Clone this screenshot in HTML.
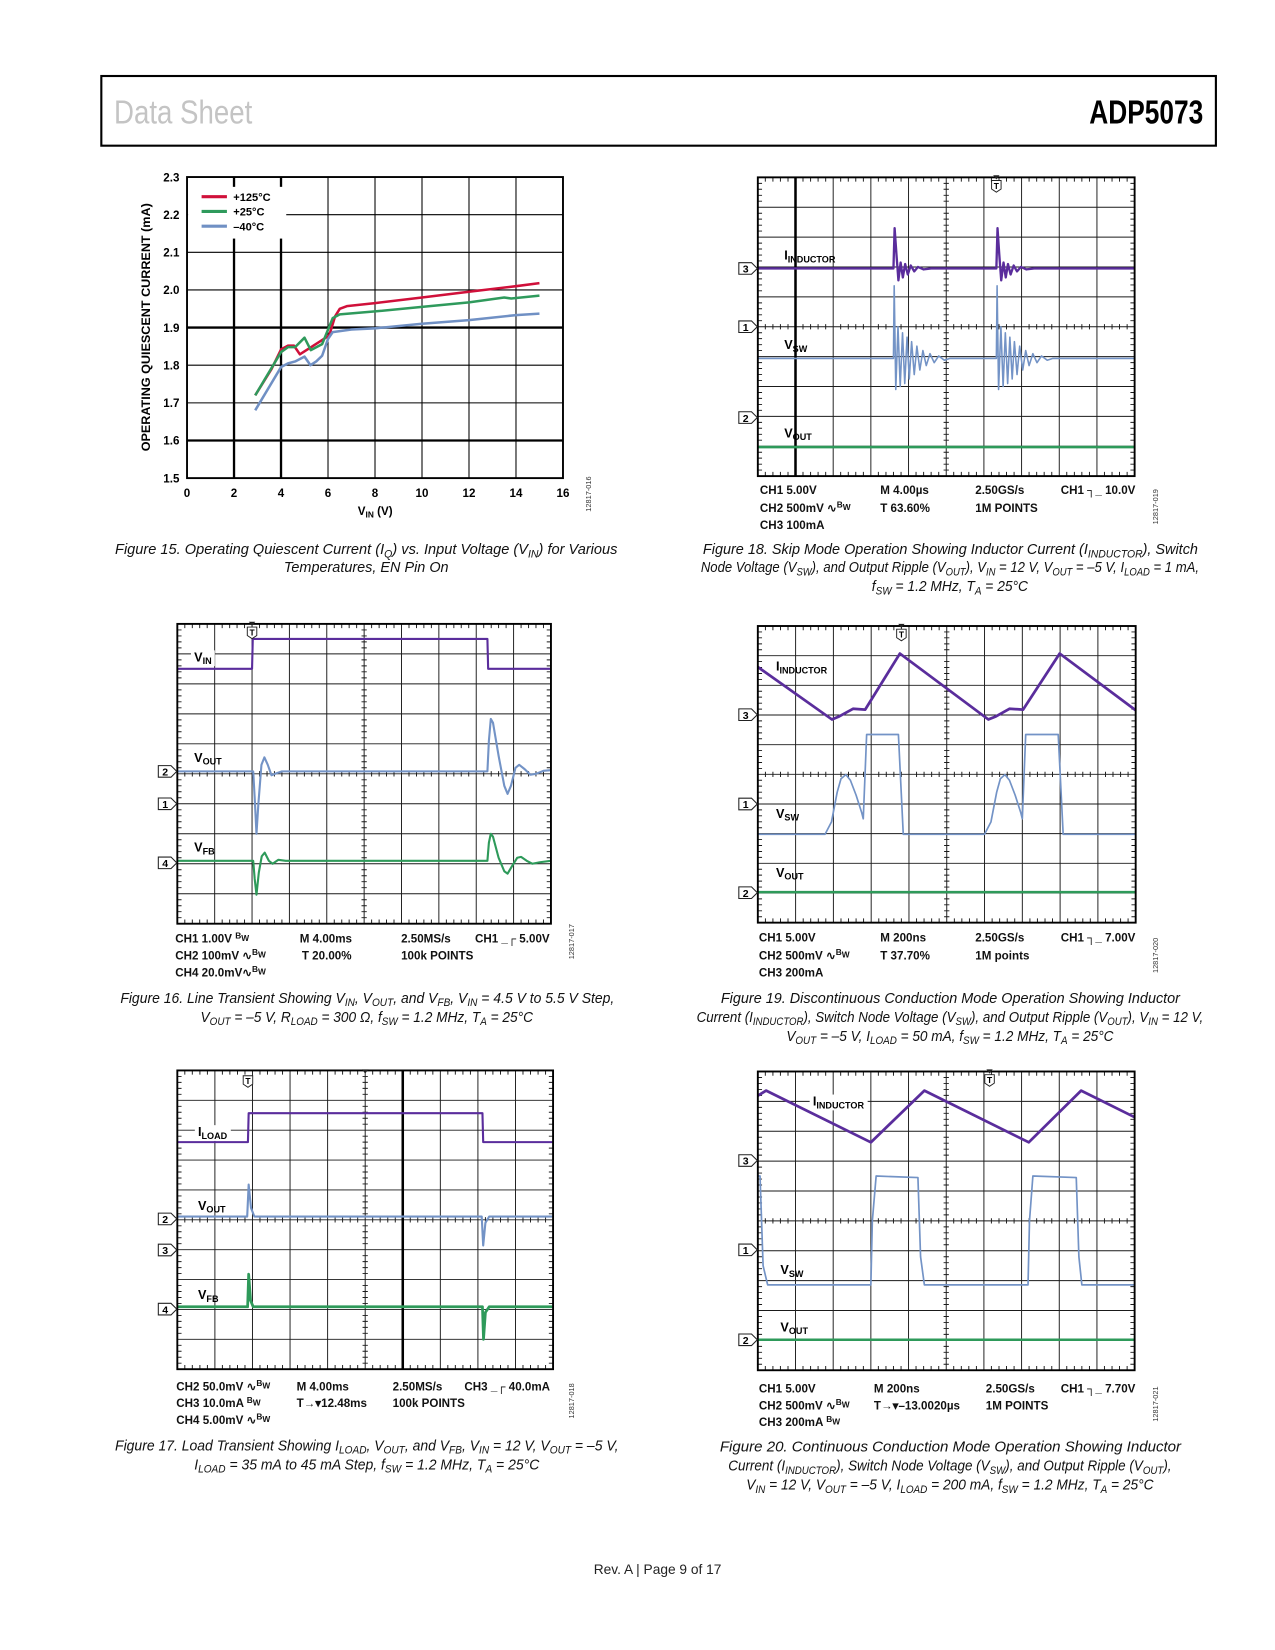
<!DOCTYPE html>
<html><head><meta charset="utf-8"><title>ADP5073 Data Sheet p9</title>
<style>
html,body{margin:0;padding:0;background:#fff;}
svg{display:block;}
text{font-family:"Liberation Sans",sans-serif;}
</style></head>
<body>
<svg id="page" xmlns="http://www.w3.org/2000/svg" width="1275" height="1650" viewBox="0 0 1208 1563" preserveAspectRatio="none">
<rect x="0" y="0" width="1208" height="1563" fill="#fff"/>
<g>
<rect x="96" y="72" width="1056" height="66" fill="none" stroke="#000" stroke-width="2"/>
<text x="108" y="117" font-size="32" fill="#c4c4c4" textLength="131" lengthAdjust="spacingAndGlyphs">Data Sheet</text>
<text x="1032" y="117" font-size="32" font-weight="bold" fill="#000" textLength="108" lengthAdjust="spacingAndGlyphs">ADP5073</text>
</g>
<text x="623" y="1491" font-size="13" text-anchor="middle" fill="#222">Rev. A | Page 9 of 17</text>
<g id="layer"></g>
</svg>
<script>
// ---------- Figure 15 data ----------
const fig15Red = [[2.9,1.72],[3.6,1.79],[4.0,1.842],[4.3,1.852],[4.55,1.852],[4.8,1.829],[5.2,1.845],[5.7,1.865],[6.05,1.879],[6.3,1.93],[6.5,1.95],[6.8,1.957],[8,1.965],[10,1.98],[12,1.995],[14,2.01],[15,2.018]];
const fig15Green = [[2.9,1.72],[4.0,1.835],[4.3,1.848],[4.6,1.848],[5.0,1.873],[5.27,1.84],[5.75,1.856],[6.2,1.925],[6.5,1.935],[8,1.943],[10,1.955],[12,1.967],[13.5,1.98],[13.8,1.977],[15,1.985]];
const fig15Blue = [[2.9,1.68],[4.0,1.795],[4.3,1.805],[4.6,1.81],[5.0,1.823],[5.25,1.80],[5.5,1.81],[5.75,1.825],[6.0,1.87],[6.2,1.888],[7,1.895],[8,1.898],[10,1.91],[12,1.92],[14,1.933],[15,1.937]];
const fig15XTicks = [0,2,4,6,8,10,12,14,16];
const fig15YTicks = ["1.5","1.6","1.7","1.8","1.9","2.0","2.1","2.2","2.3"];
const fig15Legend = ["+125°C","+25°C","\u201340°C"];

// ---------- Scope traces (division units: x 0..10, y 0..10 from top) ----------
const fig18Ind = [[0,3.05],[3.6,3.05],[3.63,1.7],[3.68,2.6],[3.73,3.45],[3.79,2.85],[3.85,3.35],[3.91,2.9],[3.98,3.25],[4.06,2.95],[4.15,3.15],[4.25,3.0],[4.4,3.08],[4.6,3.05],[6.33,3.05],[6.36,1.7],[6.41,2.6],[6.46,3.45],[6.52,2.85],[6.58,3.35],[6.64,2.9],[6.71,3.25],[6.79,2.95],[6.88,3.15],[6.98,3.0],[7.13,3.08],[7.33,3.05],[10,3.05]];
const fig18Vsw = [[0,6.06],[3.6,6.06],[3.62,3.63],[3.66,7.1],[3.72,5.0],[3.78,7.0],[3.84,5.2],[3.9,6.9],[3.96,5.35],[4.02,6.75],[4.08,5.5],[4.15,6.6],[4.22,5.65],[4.3,6.45],[4.38,5.8],[4.47,6.3],[4.57,5.9],[4.68,6.2],[4.8,5.98],[4.95,6.12],[5.1,6.06],[6.33,6.06],[6.35,3.63],[6.39,7.1],[6.45,5.0],[6.51,7.0],[6.57,5.2],[6.63,6.9],[6.69,5.35],[6.75,6.75],[6.81,5.5],[6.88,6.6],[6.95,5.65],[7.03,6.45],[7.11,5.8],[7.2,6.3],[7.3,5.9],[7.41,6.2],[7.53,5.98],[7.68,6.12],[7.83,6.06],[10,6.06]];
const fig18Vout = [[0,9.03],[10,9.03]];
const fig16Vin = [[0,1.5],[2.0,1.5],[2.02,0.5],[8.3,0.5],[8.32,1.5],[10,1.5]];
const fig16Vout = [[0,4.92],[2.03,4.92],[2.07,5.8],[2.12,7.0],[2.17,6.0],[2.25,4.7],[2.33,4.45],[2.42,4.7],[2.52,5.05],[2.62,5.0],[2.8,4.92],[8.3,4.92],[8.34,3.9],[8.39,3.17],[8.45,3.3],[8.6,4.4],[8.75,5.4],[8.84,5.67],[8.93,5.4],[9.05,4.8],[9.15,4.7],[9.3,4.85],[9.45,5.03],[9.6,5.0],[9.8,4.9],[10,4.88]];
const fig16Vfb = [[0,7.9],[2.03,7.9],[2.07,8.5],[2.12,9.03],[2.18,8.3],[2.26,7.75],[2.34,7.63],[2.45,7.9],[2.55,8.0],[2.7,7.87],[2.9,7.9],[8.3,7.9],[8.34,7.3],[8.39,7.0],[8.45,7.1],[8.6,7.8],[8.75,8.25],[8.84,8.33],[8.95,8.1],[9.1,7.8],[9.2,7.77],[9.35,7.9],[9.5,8.0],[9.7,7.95],[10,7.9]];
const fig19Ind = [[0,1.38],[1.96,3.15],[2.15,3.05],[2.52,2.79],[2.84,2.82],[3.76,0.93],[6.1,3.15],[6.3,3.05],[6.66,2.79],[7.02,2.82],[7.99,0.93],[10,2.84]];
const fig19Vsw = [[0,7.02],[1.78,7.02],[1.95,6.6],[2.1,5.6],[2.2,5.15],[2.33,5.01],[2.45,5.2],[2.6,5.7],[2.75,6.3],[2.79,6.5],[2.88,3.66],[3.72,3.66],[3.85,7.02],[6.0,7.02],[6.17,6.6],[6.32,5.6],[6.42,5.15],[6.54,5.01],[6.66,5.2],[6.81,5.7],[6.96,6.3],[7.0,6.5],[7.09,3.66],[7.95,3.66],[8.08,7.02],[10,7.02]];
const fig19Vout = [[0,8.97],[10,8.97]];
const fig17Iload = [[0,2.4],[1.88,2.4],[1.9,1.43],[8.12,1.43],[8.14,2.4],[10,2.4]];
const fig17Vout = [[0,4.89],[1.86,4.89],[1.9,3.82],[1.96,4.6],[2.05,4.89],[8.1,4.89],[8.14,5.86],[8.2,5.1],[8.3,4.89],[10,4.89]];
const fig17Vfb = [[0,7.91],[1.87,7.91],[1.9,6.82],[1.95,7.7],[2.02,7.91],[8.12,7.91],[8.15,9.0],[8.2,8.1],[8.3,7.91],[10,7.91]];
const fig20Ind = [[0,0.81],[0.22,0.64],[3.0,2.37],[4.42,0.64],[7.19,2.37],[8.58,0.64],[10,1.53]];
const fig20Vsw = [[0,3.5],[0.06,3.5],[0.14,6.5],[0.26,7.14],[3.0,7.14],[3.04,5.0],[3.14,3.5],[4.25,3.55],[4.32,6.2],[4.42,7.14],[7.17,7.14],[7.21,5.0],[7.3,3.5],[8.45,3.55],[8.52,6.2],[8.6,7.14],[10,7.14]];
const fig20Vout = [[0,8.98],[10,8.98]];

const NS = "http://www.w3.org/2000/svg";
const layer = document.getElementById('layer');
const PURPLE = "#5a2d9c", BLUE = "#7393c6", GREEN = "#2e9a5a";

function el(tag, attrs, parent){
  const e = document.createElementNS(NS, tag);
  for (const k in attrs) e.setAttribute(k, attrs[k]);
  (parent || layer).appendChild(e);
  return e;
}
function nm(e, name){
  
  
  return e;
}
function rich(parent, str, attrs, size){
  const t = el('text', attrs, parent);
  const re = /([_^])\{([^}]*)\}/g;
  let last = 0, m, pendingDy = 0;
  const add = (txt, extra) => {
    if (!txt) return;
    const sp = el('tspan', extra || {}, t);
    sp.textContent = txt;
  };
  while ((m = re.exec(str)) !== null) {
    add(str.slice(last, m.index), pendingDy ? {dy: pendingDy} : {});
    pendingDy = 0;
    const d = m[1] === '_' ? size * 0.22 : -size * 0.38;
    add(m[2], {'font-size': (size * 0.72).toFixed(1), dy: d.toFixed(2)});
    pendingDy = (-d).toFixed(2);
    last = re.lastIndex;
  }
  const rest = str.slice(last);
  if (rest) add(rest, pendingDy ? {dy: pendingDy} : {});
  else if (pendingDy) add('\u200b', {dy: pendingDy});
  return t;
}

// ---------- Figure 15 ----------
(function(){
  const g = nm(el('g', {}), 'figure-15-chart');
  const X0 = 177.2, X1 = 533.4, Y0 = 167.7, Y1 = 452.9;
  const xs = v => X0 + (v - 0) / 16 * (X1 - X0);
  const ys = v => Y1 - (v - 1.5) / 0.8 * (Y1 - Y0);
  nm(el('rect', {x: X0, y: Y0, width: X1 - X0, height: Y1 - Y0, fill: '#fff'}, g), 'plot-area');
  for (let i = 1; i < 8; i++) {
    const v = fig15XTicks[i];
    const thick = (v === 2 || v === 4);
    const ln = el('line', {x1: xs(v), x2: xs(v), y1: Y0, y2: Y1, stroke: '#000', 'stroke-width': thick ? 2.2 : 1}, g);
    nm(ln, 'x-gridline');
  }
  for (let i = 1; i < 8; i++) {
    const v = parseFloat(fig15YTicks[i]);
    const thick = (fig15YTicks[i] === "1.9" || fig15YTicks[i] === "1.6");
    const ln = el('line', {x1: X0, x2: X1, y1: ys(v), y2: ys(v), stroke: '#000', 'stroke-width': thick ? 2.2 : 1}, g);
    nm(ln, 'y-gridline');
  }
  const lb = el('rect', {x: X0 + 1, y: 177, width: 93, height: 49, fill: '#fff'}, g);
  nm(lb, 'legend-box');
  nm(el('rect', {x: X0, y: Y0, width: X1 - X0, height: Y1 - Y0, fill: 'none', stroke: '#000', 'stroke-width': 1.8}, g), 'plot-border');
  fig15XTicks.forEach(v => {
    const t = el('text', {x: xs(v), y: 471, 'font-size': 11, 'font-weight': 'bold', 'text-anchor': 'middle'}, g);
    t.textContent = v;
    nm(t, 'x-tick-label');
  });
  fig15YTicks.forEach(s => {
    const t = el('text', {x: 170, y: ys(parseFloat(s)) + 4, 'font-size': 11, 'font-weight': 'bold', 'text-anchor': 'end'}, g);
    t.textContent = s;
    nm(t, 'y-tick-label');
  });
  const xt = rich(g, 'V_{IN} (V)', {x: 339, y: 488, 'font-size': 11, 'font-weight': 'bold'}, 11);
  nm(xt, 'x-axis-title');
  const yt = el('text', {x: 0, y: 0, 'font-size': 11, 'font-weight': 'bold', 'text-anchor': 'middle', transform: 'translate(142,310) rotate(-90)', textLength: 235, lengthAdjust: 'spacingAndGlyphs'}, g);
  yt.textContent = 'OPERATING QUIESCENT CURRENT (mA)';
  nm(yt, 'y-axis-title');
  const series = [[fig15Red, '#d0103a', 'series-plus125c'], [fig15Green, '#2f9a5c', 'series-plus25c'], [fig15Blue, '#7090c4', 'series-minus40c']];
  series.forEach((s, i) => {
    const p = el('polyline', {points: s[0].map(d => xs(d[0]).toFixed(1) + ',' + ys(d[1]).toFixed(1)).join(' '), fill: 'none', stroke: s[1], 'stroke-width': 2.4, 'stroke-linejoin': 'round'}, g);
    nm(p, s[2]);
    const ly = 186.3 + i * 14;
    const ll = el('line', {x1: 191, x2: 215, y1: ly, y2: ly, stroke: s[1], 'stroke-width': 3}, g);
    nm(ll, 'legend-swatch');
    const lt = el('text', {x: 221, y: ly + 4, 'font-size': 10.5, 'font-weight': 'bold'}, g);
    lt.textContent = fig15Legend[i];
    nm(lt, 'legend-entry');
  });
  const id = el('text', {x: 0, y: 0, 'font-size': 7, 'text-anchor': 'middle', fill: '#333', transform: 'translate(560,468) rotate(-90)'}, g);
  id.textContent = '12817-016';
  nm(id, 'figure-id');
})();

// ---------- Scopes ----------
const scopes = [
  {name: 'figure-18-scope', x: 718, y: 168, w: 357, h: 283, cursor: 1, trig: 6.33, trigTop: true,
   traces: [[fig18Ind, PURPLE, 2.2, 'trace-inductor-current'], [fig18Vsw, BLUE, 1.5, 'trace-switch-voltage'], [fig18Vout, GREEN, 2.4, 'trace-output-voltage']],
   markers: [['3', 3.05], ['1', 5.0], ['2', 8.04]],
   labels: [['I_{INDUCTOR}', 0.7, 2.75, false], ['V_{SW}', 0.7, 5.75, false], ['V_{OUT}', 0.7, 8.7, false]],
   foot: [[720, 468, 'CH1 5.00V'], [834, 468, 'M 4.00µs'], [924, 468, '2.50GS/s'], [1005, 468, 'CH1 ┐_ 10.0V'], [720, 485, 'CH2 500mV  ∿^{B}_{W}'], [834, 485, 'T  63.60%'], [924, 485, '1M POINTS'], [720, 501, 'CH3 100mA']],
   id: [1097, 480, '12817-019']},
  {name: 'figure-16-scope', x: 168, y: 591, w: 354, h: 284, cursor: null, trig: 2.0, trigTop: true,
   traces: [[fig16Vin, PURPLE, 2.0, 'trace-input-voltage'], [fig16Vout, BLUE, 2.0, 'trace-output-voltage'], [fig16Vfb, GREEN, 2.0, 'trace-feedback-voltage']],
   markers: [['2', 4.92], ['1', 6.0], ['4', 7.97]],
   labels: [['V_{IN}', 0.45, 1.25, true], ['V_{OUT}', 0.45, 4.6, false], ['V_{FB}', 0.45, 7.6, false]],
   foot: [[166, 893, 'CH1 1.00V  ^{B}_{W}'], [284, 893, 'M 4.00ms'], [380, 893, '2.50MS/s'], [450, 893, 'CH1 _┌ 5.00V'], [166, 909, 'CH2 100mV ∿^{B}_{W}'], [286, 909, 'T 20.00%'], [380, 909, '100k POINTS'], [166, 925, 'CH4 20.0mV∿^{B}_{W}']],
   id: [544, 892, '12817-017']},
  {name: 'figure-19-scope', x: 718, y: 593, w: 358, h: 281, cursor: null, trig: 3.8, trigTop: true,
   traces: [[fig19Ind, PURPLE, 2.6, 'trace-inductor-current'], [fig19Vsw, BLUE, 1.6, 'trace-switch-voltage'], [fig19Vout, GREEN, 2.4, 'trace-output-voltage']],
   markers: [['3', 2.99], ['1', 6.0], ['2', 8.99]],
   labels: [['I_{INDUCTOR}', 0.48, 1.5, false], ['V_{SW}', 0.48, 6.47, false], ['V_{OUT}', 0.48, 8.46, false]],
   foot: [[719, 892, 'CH1 5.00V'], [834, 892, 'M 200ns'], [924, 892, '2.50GS/s'], [1005, 892, 'CH1 ┐_ 7.00V'], [719, 909, 'CH2 500mV  ∿^{B}_{W}'], [834, 909, 'T  37.70%'], [924, 909, '1M points'], [719, 925, 'CH3 200mA']],
   id: [1097, 905, '12817-020']},
  {name: 'figure-17-scope', x: 168, y: 1014, w: 356, h: 283, cursor: 6, trig: 1.88, trigTop: false,
   traces: [[fig17Iload, PURPLE, 2.0, 'trace-load-current'], [fig17Vout, BLUE, 2.0, 'trace-output-voltage'], [fig17Vfb, GREEN, 2.6, 'trace-feedback-voltage']],
   markers: [['2', 4.97], ['3', 6.01], ['4', 7.99]],
   labels: [['I_{LOAD}', 0.55, 2.2, true], ['V_{OUT}', 0.55, 4.67, false], ['V_{FB}', 0.55, 7.65, false]],
   foot: [[167, 1317, 'CH2 50.0mV ∿^{B}_{W}'], [281, 1317, 'M 4.00ms'], [372, 1317, '2.50MS/s'], [440, 1317, 'CH3 _┌ 40.0mA'], [167, 1333, 'CH3 10.0mA    ^{B}_{W}'], [281, 1333, 'T→▾12.48ms'], [372, 1333, '100k POINTS'], [167, 1349, 'CH4 5.00mV ∿^{B}_{W}']],
   id: [544, 1327, '12817-018']},
  {name: 'figure-20-scope', x: 718, y: 1015, w: 357, h: 283, cursor: null, trig: 6.15, trigTop: true,
   traces: [[fig20Ind, PURPLE, 2.6, 'trace-inductor-current'], [fig20Vsw, BLUE, 1.6, 'trace-switch-voltage'], [fig20Vout, GREEN, 2.4, 'trace-output-voltage']],
   markers: [['3', 2.98], ['1', 5.97], ['2', 8.98]],
   labels: [['I_{INDUCTOR}', 1.46, 1.14, true], ['V_{SW}', 0.6, 6.78, false], ['V_{OUT}', 0.6, 8.7, false]],
   foot: [[719, 1319, 'CH1 5.00V'], [828, 1319, 'M 200ns'], [934, 1319, '2.50GS/s'], [1005, 1319, 'CH1 ┐_ 7.70V'], [719, 1335, 'CH2 500mV ∿^{B}_{W}'], [828, 1335, 'T→▾–13.0020µs'], [934, 1335, '1M POINTS'], [719, 1351, 'CH3 200mA   ^{B}_{W}']],
   id: [1097, 1330, '12817-021']}
];

scopes.forEach(s => {
  const g = nm(el('g', {}), s.name);
  const sx = d => s.x + d * s.w / 10;
  const sy = d => s.y + d * s.h / 10;
  nm(el('rect', {x: s.x, y: s.y, width: s.w, height: s.h, fill: '#fff'}, g), 'screen');
  for (let i = 1; i < 10; i++) {
    const v = el('line', {x1: sx(i), x2: sx(i), y1: s.y, y2: s.y + s.h, stroke: '#1a1a1a', 'stroke-width': 0.9}, g);
    nm(v, 'grid-vertical');
    const h = el('line', {x1: s.x, x2: s.x + s.w, y1: sy(i), y2: sy(i), stroke: '#1a1a1a', 'stroke-width': 0.9}, g);
    nm(h, 'grid-horizontal');
  }
  let d = '';
  for (let k = 1; k < 50; k++) {
    const f = k / 5;
    if (k % 5 === 0) continue;
    d += `M${sx(f).toFixed(1)},${s.y}v4M${sx(f).toFixed(1)},${s.y + s.h}v-4`;
    d += `M${s.x},${sy(f).toFixed(1)}h4M${s.x + s.w},${sy(f).toFixed(1)}h-4`;
    d += `M${sx(f).toFixed(1)},${sy(5) - 2.5}v5M${sx(5) - 2.5},${sy(f).toFixed(1)}h5`;
  }
  nm(el('path', {d: d, stroke: '#1a1a1a', 'stroke-width': 0.9, fill: 'none'}, g), 'minor-ticks');
  if (s.cursor !== null) {
    nm(el('line', {x1: sx(s.cursor), x2: sx(s.cursor), y1: s.y, y2: s.y + s.h, stroke: '#000', 'stroke-width': 2.4}, g), 'cursor-line');
  }
  // label backgrounds
  const labelTexts = [];
  s.labels.forEach(L => {
    const t = rich(g, L[0], {x: sx(L[1]), y: sy(L[2]), 'font-size': 12, 'font-weight': 'bold'}, 12);
    nm(t, 'trace-label');
    labelTexts.push([t, L[3]]);
  });
  s.traces.forEach(tr => {
    const p = el('polyline', {points: tr[0].map(q => sx(q[0]).toFixed(1) + ',' + sy(q[1]).toFixed(1)).join(' '), fill: 'none', stroke: tr[1], 'stroke-width': tr[2], 'stroke-linejoin': 'round'}, g);
    nm(p, tr[3]);
  });
  labelTexts.forEach(([t, bg]) => {
    if (!bg) return;
    const bb = t.getBBox();
    const r = el('rect', {x: bb.x - 3, y: bb.y, width: bb.width + 6, height: bb.height, fill: '#fff'}, g);
    nm(r, 'label-background');
    g.insertBefore(r, t);
  });
  nm(el('rect', {x: s.x, y: s.y, width: s.w, height: s.h, fill: 'none', stroke: '#000', 'stroke-width': 1.8}, g), 'screen-border');
  s.markers.forEach(m => {
    const y = sy(m[1]);
    const r = el('path', {d: `M${s.x - 18},${y - 5.5}h12l5.5,5.5l-5.5,5.5h-12z`, fill: '#fff', stroke: '#222', 'stroke-width': 1}, g);
    nm(r, 'channel-marker');
    const t = el('text', {x: s.x - 11.5, y: y + 4, 'font-size': 10, 'font-weight': 'bold', 'text-anchor': 'middle'}, g);
    t.textContent = m[0];
    nm(t, 'channel-marker-label');
  });
  // trigger marker
  const tx = sx(s.trig), ty = s.y + (s.trigTop ? 3 : 5);
  if (s.trigTop) nm(el('path', {d: `M${tx - 3},${s.y - 2}h6l-3,4z`, fill: '#222'}, g), 'trigger-arrow');
  else nm(el('path', {d: `M${sx(5) - 3},${s.y - 1}h6l-3,4z`, fill: '#222'}, g), 'trigger-arrow');
  nm(el('path', {d: `M${tx - 4.5},${ty}h9v8l-4.5,3l-4.5,-3z`, fill: '#fff', stroke: '#222', 'stroke-width': 0.9}, g), 'trigger-marker');
  const tt = el('text', {x: tx, y: ty + 8, 'font-size': 8, 'font-weight': 'bold', 'text-anchor': 'middle'}, g);
  tt.textContent = 'T';
  nm(tt, 'trigger-marker-label');
  s.foot.forEach(f => {
    const t = rich(g, f[2], {x: f[0], y: f[1], 'font-size': 11, 'font-weight': 'bold', fill: '#111'}, 11);
    nm(t, 'scope-setting');
  });
  const id = el('text', {x: 0, y: 0, 'font-size': 7, 'text-anchor': 'middle', fill: '#333', transform: `translate(${s.id[0]},${s.id[1]}) rotate(-90)`}, g);
  id.textContent = s.id[2];
  nm(id, 'figure-id');
});

// ---------- Captions ----------
const captions = [
  ['figure-15-caption', [[109, 585, 525, 'Figure 15. Operating Quiescent Current (I_{Q}) vs. Input Voltage (V_{IN}) for Various'], [269, 425, 542, 'Temperatures, EN Pin On']]],
  ['figure-16-caption', [[114, 582, 950, 'Figure 16. Line Transient Showing V_{IN}, V_{OUT}, and V_{FB}, V_{IN} = 4.5 V to 5.5 V Step,'], [190, 505, 968, 'V_{OUT} = –5 V, R_{LOAD} = 300 Ω, f_{SW} = 1.2 MHz, T_{A} = 25°C']]],
  ['figure-17-caption', [[109, 586, 1374, 'Figure 17. Load Transient Showing I_{LOAD}, V_{OUT}, and V_{FB}, V_{IN} = 12 V, V_{OUT} = –5 V,'], [184, 511, 1392, 'I_{LOAD} = 35 mA to 45 mA Step, f_{SW} = 1.2 MHz, T_{A} = 25°C']]],
  ['figure-18-caption', [[666, 1135, 525, 'Figure 18. Skip Mode Operation Showing Inductor Current (I_{INDUCTOR}), Switch'], [664, 1136, 542, 'Node Voltage (V_{SW}), and Output Ripple (V_{OUT}), V_{IN} = 12 V, V_{OUT} = –5 V, I_{LOAD} = 1 mA,'], [826, 974, 560, 'f_{SW} = 1.2 MHz, T_{A} = 25°C']]],
  ['figure-19-caption', [[683, 1118, 950, 'Figure 19. Discontinuous Conduction Mode Operation Showing Inductor'], [660, 1140, 968, 'Current (I_{INDUCTOR}), Switch Node Voltage (V_{SW}), and Output Ripple (V_{OUT}), V_{IN} = 12 V,'], [745, 1055, 986, 'V_{OUT} = –5 V, I_{LOAD} = 50 mA, f_{SW} = 1.2 MHz, T_{A} = 25°C']]],
  ['figure-20-caption', [[682, 1119, 1375, 'Figure 20. Continuous Conduction Mode Operation Showing Inductor'], [690, 1110, 1393, 'Current (I_{INDUCTOR}), Switch Node Voltage (V_{SW}), and Output Ripple (V_{OUT}),'], [707, 1093, 1411, 'V_{IN} = 12 V, V_{OUT} = –5 V, I_{LOAD} = 200 mA, f_{SW} = 1.2 MHz, T_{A} = 25°C']]]
];
captions.forEach(c => {
  const g = nm(el('g', {}), c[0]);
  c[1].forEach(L => {
    const t = rich(g, L[3], {x: L[0], y: L[2], 'font-size': 14, 'font-style': 'italic', fill: '#111', textLength: L[1] - L[0], lengthAdjust: 'spacingAndGlyphs'}, 14);
    nm(t, 'caption-line');
  });
});
</script>
</body></html>
